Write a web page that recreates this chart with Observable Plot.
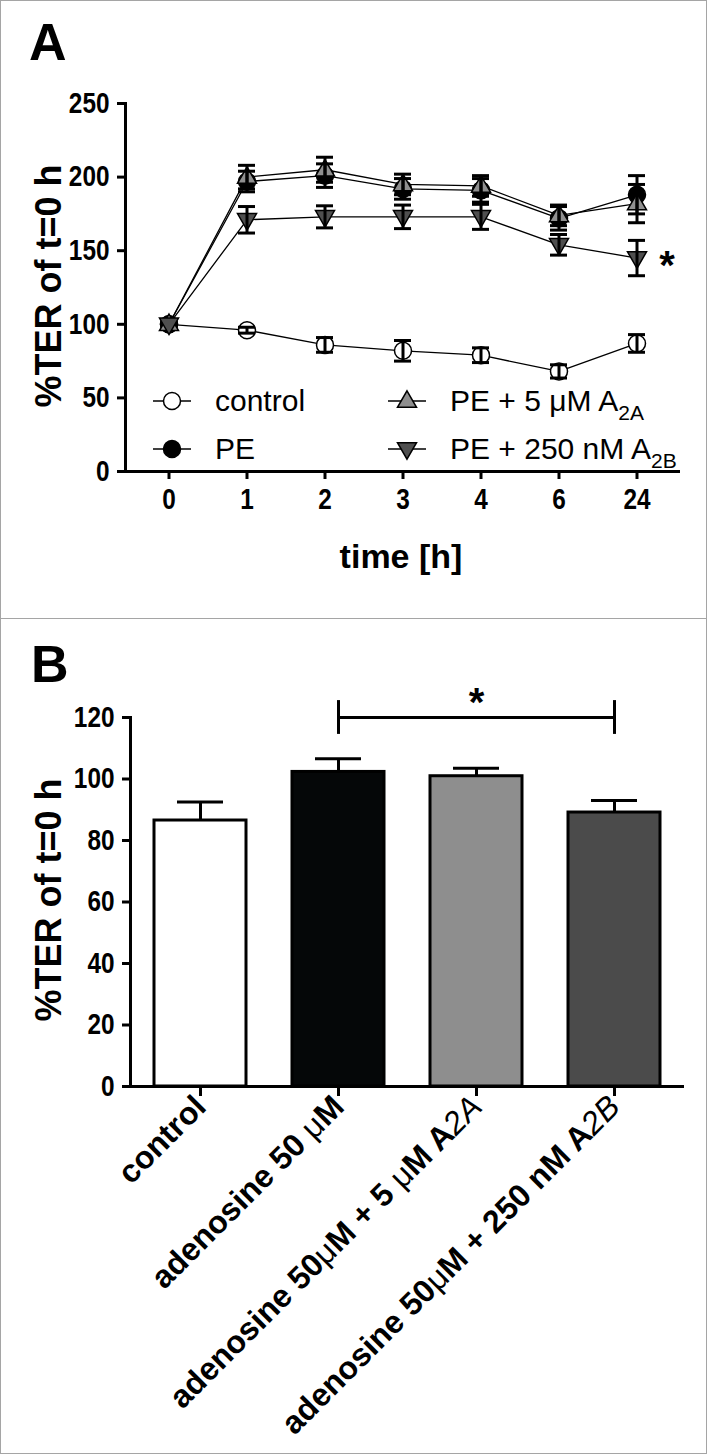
<!DOCTYPE html>
<html><head><meta charset="utf-8">
<script src="https://cdn.jsdelivr.net/npm/d3@7"></script>
<script src="https://cdn.jsdelivr.net/npm/@observablehq/plot@0.6"></script>
<style>
body{margin:0;background:#fff;}
#wrap{position:relative;width:707px;height:1454px;}
.panel{position:absolute;left:0;width:707px;box-sizing:border-box;border:1px solid #a5a5a5;background:#fff;overflow:hidden}
#pA{top:0;height:619px}
#pB{top:618px;height:836px}
.panel svg.ov{position:absolute;left:0;top:0;pointer-events:none}
.panel svg.plot{position:absolute;left:0;top:0}
</style></head><body>
<div id="wrap"><div class="panel" id="pA"></div><div class="panel" id="pB"></div></div>
<script>
const SANS = "'Liberation Sans',Arial,Helvetica,sans-serif";

// ---------- Panel A data ----------
const times = ["0","1","2","3","4","6","24"];
const seriesNames = ["control","PE","PE + 5 μM A2A","PE + 250 nM A2B"];
const controlMean = [100,96,86,82,79,68,87];
const controlSem  = [0,2,5,7,5,4.5,6];
const peMean = [100,197,201,192,191,172,188];
const peSem  = [0,7,8,7,8,8,13];
const a2aMean = [100,200,205,195,194,174,182];
const a2aSem  = [0,8,8.5,7,7,7,13];
const a2bMean = [100,171,173,173,173,154,145];
const a2bSem  = [0,9,7.5,8,8.5,7,12];
const seriesFill = ["#ffffff","#000000","#8f8f8f","#4f4f4f"];
const yTicksA = [0,50,100,150,200,250];
const starA = [{series:"PE + 250 nM A2B", time:"24", label:"*"}];

// ---------- Panel B data ----------
const groups = ["control","adenosine 50 μM","adenosine 50μM + 5 μM A2A","adenosine 50μM + 250 nM A2B"];
const terMean = [86.5,102.3,100.9,89.1];
const terSem  = [6,4.3,2.6,3.9];
const barFill = ["#ffffff","#050708","#8e8e8e","#4b4b4b"];
const yTicksB = [0,20,40,60,80,100,120];
const sigPair = [groups[1], groups[3]];
const sigLevel = 120;
const sigTickHalf = 5.5;

// ---------- build rows ----------
const means = [controlMean, peMean, a2aMean, a2bMean];
const sems = [controlSem, peSem, a2aSem, a2bSem];
const rowsA = [];
seriesNames.forEach((s, k) => times.forEach((t, i) => rowsA.push({series: s, t, mean: means[k][i], sem: sems[k][i]})));
const errA = rowsA.filter(d => d.sem > 0);
const starRows = starA.map(d => ({...d, y: rowsA.find(r => r.series === d.series && r.t === d.time).mean}));

// custom symbols
const upTri = {draw(ctx, size){const r=Math.sqrt(size/Math.PI); const w=r*1.12, h=w*1.732; ctx.moveTo(0,-h*0.62); ctx.lineTo(w,h*0.38); ctx.lineTo(-w,h*0.38); ctx.closePath();}};
const downTri = {draw(ctx, size){const r=Math.sqrt(size/Math.PI); const w=r*1.12, h=w*1.732; ctx.moveTo(0,h*0.62); ctx.lineTo(w,-h*0.38); ctx.lineTo(-w,-h*0.38); ctx.closePath();}};
const symbols = ["circle","circle",upTri,downTri];

const dotMarks = seriesNames.map((s, k) => Plot.dot(rowsA.filter(d => d.series === s), {
  x: "t", y: "mean", r: 8.5, symbol: symbols[k], fill: seriesFill[k], stroke: "#000", strokeWidth: 1.5
}));

const tickFont = {fontSize: 29, fontWeight: "bold"};

const plotA = Plot.plot({
  width: 705, height: 617,
  marginLeft: 124, marginRight: 26, marginTop: 102, marginBottom: 147,
  style: {fontFamily: SANS, background: "transparent", color: "#000", overflow: "visible"},
  x: {type: "band", domain: times, paddingInner: 0.784, paddingOuter: 0.412},
  y: {domain: [0, 250]},
  marks: [
    Plot.line(rowsA, {x: "t", y: "mean", z: "series", stroke: "#000", strokeWidth: 1.3}),
    ...dotMarks,
    Plot.ruleX(errA, {x: "t", y1: d => d.mean - d.sem, y2: d => d.mean + d.sem, stroke: "#000", strokeWidth: 3}),
    Plot.tickY(errA, {x: "t", y: d => d.mean + d.sem, stroke: "#000", strokeWidth: 3}),
    Plot.tickY(errA, {x: "t", y: d => d.mean - d.sem, stroke: "#000", strokeWidth: 3}),
    Plot.text(starRows, {x: "time", y: "y", text: "label", dx: 30, dy: 8, fontSize: 40, fontWeight: "bold"}),
    Plot.frame({anchor: "left", stroke: "#000", strokeWidth: 3}),
    Plot.ruleY([0], {stroke: "#000", strokeWidth: 3}),
    Plot.axisY({ticks: yTicksA, tickSize: 8, tickPadding: 8, strokeWidth: 3, ...tickFont, label: null}),
    Plot.axisX({tickSize: 8, tickPadding: 9, strokeWidth: 3, ...tickFont, label: null})
  ]
});
plotA.classList.add("plot");
document.getElementById("pA").appendChild(plotA);

// ---------- Panel B ----------
const rowsB = groups.map((g, i) => ({group: g, mean: terMean[i], sem: terSem[i]}));
const plotB = Plot.plot({
  width: 705, height: 834,
  marginLeft: 129, marginRight: 22, marginTop: 98, marginBottom: 367,
  style: {fontFamily: SANS, background: "transparent", color: "#000", overflow: "visible"},
  x: {type: "band", domain: groups, paddingInner: 0.335, paddingOuter: 0.1675},
  y: {domain: [0, 120]},
  color: {domain: groups, range: barFill},
  marks: [
    Plot.ruleX(rowsB, {x: "group", y1: "mean", y2: d => d.mean + d.sem, stroke: "#000", strokeWidth: 3}),
    Plot.tickY(rowsB, {x: "group", y: d => d.mean + d.sem, stroke: "#000", strokeWidth: 3, insetLeft: 23, insetRight: 23}),
    Plot.barY(rowsB, {x: "group", y: "mean", fill: "group", stroke: "#000", strokeWidth: 3}),
    Plot.link([{a: sigPair[0], b: sigPair[1], y: sigLevel}], {x1: "a", x2: "b", y1: "y", y2: "y", stroke: "#000", strokeWidth: 3}),
    Plot.ruleX(sigPair.map(g => ({g})), {x: "g", y1: sigLevel - sigTickHalf, y2: sigLevel + sigTickHalf, stroke: "#000", strokeWidth: 3}),
    Plot.text([{g: groups[2], y: sigLevel, s: "*"}], {x: "g", y: "y", text: "s", dy: -2, lineAnchor: "bottom", fontSize: 40, fontWeight: "bold"}),
    Plot.frame({anchor: "left", stroke: "#000", strokeWidth: 3}),
    Plot.ruleY([0], {stroke: "#000", strokeWidth: 3}),
    Plot.axisY({ticks: yTicksB, tickSize: 8, tickPadding: 8, strokeWidth: 3, ...tickFont, label: null}),
    Plot.axisX({tickRotate: -45, tickSize: 10, tickPadding: 5, strokeWidth: 3, fontSize: 32, fontWeight: "bold", label: null})
  ]
});
plotB.classList.add("plot");
document.getElementById("pB").appendChild(plotB);

// condensed look for numeric tick labels (the original uses a condensed face)
function condense(svg, sel) {
  svg.querySelectorAll(sel).forEach(t => {
    const tr = t.getAttribute("transform");
    if (tr) t.setAttribute("transform", tr + " scale(0.84,1)");
  });
}
condense(plotA, '[aria-label="y-axis tick label"] text');
condense(plotA, '[aria-label="x-axis tick label"] text');
condense(plotB, '[aria-label="y-axis tick label"] text');

// style the x labels of panel B (μ light, subscripts light italic)
plotB.querySelectorAll('[aria-label="x-axis tick label"] text').forEach(t => {
  const s = t.textContent;
  t.textContent = "";
  const parts = s.split(/(μ|2A$|2B$)/).filter(p => p !== "");
  parts.forEach(p => {
    const ts = document.createElementNS("http://www.w3.org/2000/svg", "tspan");
    ts.textContent = p;
    if (p === "μ") ts.setAttribute("font-weight", "normal");
    if (p === "2A" || p === "2B") { ts.setAttribute("font-weight", "normal"); ts.setAttribute("font-style", "italic"); }
    t.appendChild(ts);
  });
});

// ---------- overlays (panel letters, axis titles, legend) ----------
function overlay(panel, w, h) {
  return d3.select(panel).append("svg").attr("class", "ov").attr("width", w).attr("height", h)
    .style("font-family", SANS);
}
const ovA = overlay("#pA", 705, 617);
ovA.append("text").attr("x", 28).attr("y", 59).attr("font-size", 52).attr("font-weight", "bold").text("A");
ovA.append("text").attr("transform", "translate(60,285) rotate(-90)").attr("text-anchor", "middle")
  .attr("font-size", 36).attr("font-weight", "bold").text("%TER of t=0 h");
ovA.append("text").attr("x", 400).attr("y", 567).attr("text-anchor", "middle")
  .attr("font-size", 34).attr("font-weight", "bold").text("time [h]");

// legend
const legendPos = [[171, 400], [171, 448], [406, 400], [406, 448]];
const legendLabels = [["control"], ["PE"], ["PE + 5 μM A", "2A"], ["PE + 250 nM A", "2B"]];
seriesNames.forEach((s, k) => {
  const [cx, cy] = legendPos[k];
  const g = ovA.append("g").attr("transform", `translate(${cx},${cy})`);
  g.append("line").attr("x1", -19).attr("x2", 19).attr("stroke", "#000").attr("stroke-width", 1.5);
  const sym = k < 2 ? d3.symbolCircle : symbols[k];
  g.append("path").attr("d", d3.symbol(sym, Math.PI * 8.5 * 8.5)()).attr("fill", seriesFill[k]).attr("stroke", "#000").attr("stroke-width", 1.5);
  const t = g.append("text").attr("x", 43).attr("y", 10).attr("font-size", 30);
  t.append("tspan").text(legendLabels[k][0]);
  if (legendLabels[k][1]) t.append("tspan").attr("font-size", 21).attr("dy", 9).text(legendLabels[k][1]);
});

const ovB = overlay("#pB", 705, 834);
ovB.append("text").attr("x", 30).attr("y", 63).attr("font-size", 52).attr("font-weight", "bold").text("B");
ovB.append("text").attr("transform", "translate(60,281) rotate(-90)").attr("text-anchor", "middle")
  .attr("font-size", 36).attr("font-weight", "bold").text("%TER of t=0 h");
</script>
</body></html>
